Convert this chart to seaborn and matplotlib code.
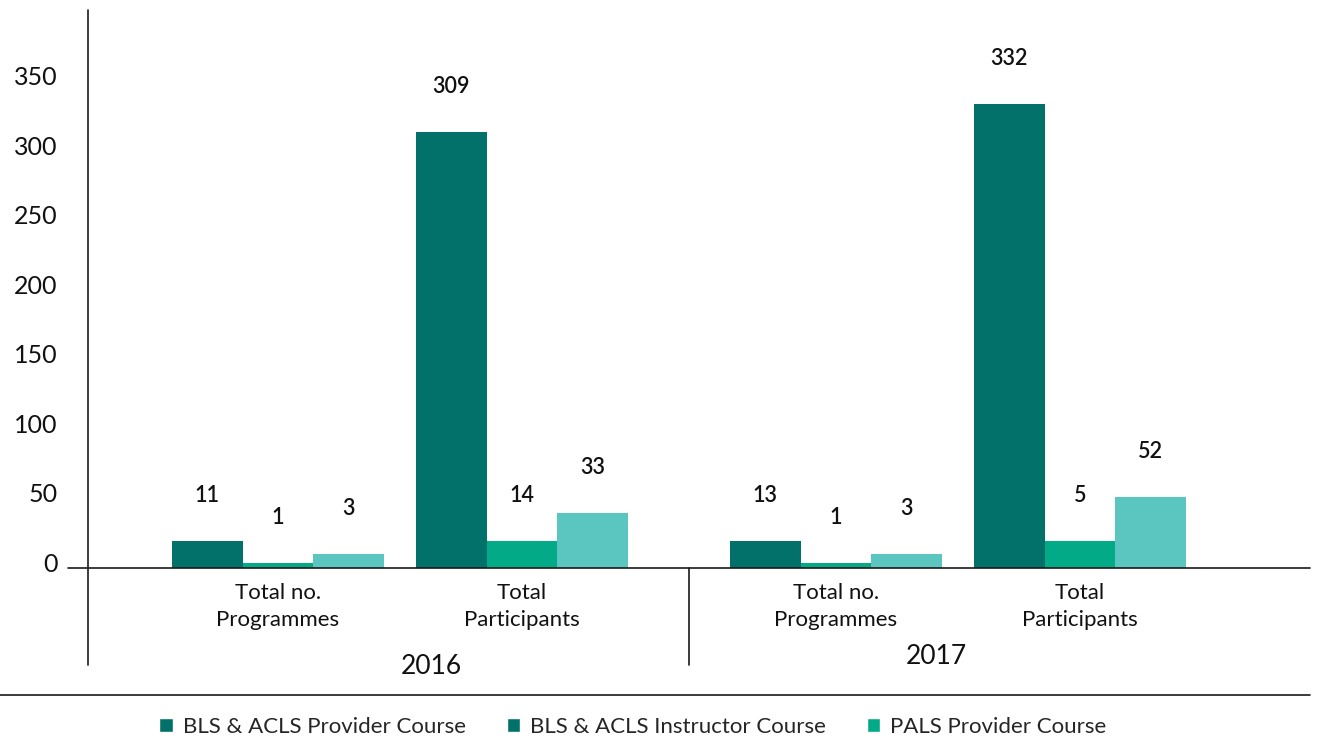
import matplotlib
matplotlib.use("Agg")
import matplotlib.pyplot as plt
import matplotlib.transforms as mtransforms
from matplotlib.lines import Line2D
from matplotlib.patches import Patch
import pandas as pd
import seaborn as sns

# ---- data ----
categories = ["Total no.\nProgrammes", "Total\nParticipants",
              "Total no.\nProgrammes", "Total\nParticipants"]
years = ["2016", "2017"]
series = ["BLS & ACLS Provider Course", "BLS & ACLS Instructor Course",
          "PALS Provider Course"]

# bar heights as they are drawn in the picture
provider_heights = [19.4, 314, 19.4, 334]
instructor_heights = [3.6, 19.4, 3.6, 19.4]
pals_heights = [10, 39.6, 10, 51]

# numbers printed above the bars
provider_labels = [11, 309, 13, 332]
instructor_labels = [1, 14, 1, 5]
pals_labels = [3, 33, 3, 52]

y_ticks = [0, 50, 100, 150, 200, 250, 300, 350]

# ---- layout / style ----
bar_colors = ["#02716a", "#02aa87", "#5bc5bf"]
legend_colors = ["#02716a", "#02716a", "#02aa87"]
slot_pos = [0, 1, 2.287, 3.287]   # wider gap between the two years
year_pos = [0.627, 2.70]

rows = []
for name, heights, labels in zip(series,
                                 [provider_heights, instructor_heights, pals_heights],
                                 [provider_labels, instructor_labels, pals_labels]):
    for p, h, lab in zip(slot_pos, heights, labels):
        rows.append({"pos": p, "height": h, "label": lab, "series": name})
df = pd.DataFrame(rows)

W, H = 1319, 742


def fx(px):
    return px / W


def fy(py):
    return 1 - py / H


sns.set_theme(style="white")
plt.rcParams["font.family"] = ["Lato", "DejaVu Sans"]

fig = plt.figure(figsize=(W / 100, H / 100), dpi=100)
ax = fig.add_axes([fx(88), fy(568), fx(1310) - fx(88), fy(10) - fy(568)])

sns.barplot(data=df, x="pos", y="height", hue="series", hue_order=series,
            palette=bar_colors, native_scale=True, width=0.869, saturation=1,
            linewidth=0, legend=False, ax=ax)

ax.set_xlim((88 - 278) / 244, (1310 - 278) / 244)
ax.set_ylim(0, 558 / 1.389)

# data labels above bars
for cont, labels in zip(ax.containers, [provider_labels, instructor_labels, pals_labels]):
    for patch, lab in zip(cont.patches, labels):
        ax.annotate(str(lab), (patch.get_x() + patch.get_width() / 2, patch.get_height()),
                    xytext=(0, 33), textcoords="offset points",
                    ha="center", va="center", fontsize=15.5, fontweight="semibold",
                    color="#111111")

for s in ax.spines.values():
    s.set_visible(False)

ax.set_xlabel("")
ax.set_ylabel("")
ax.set_xticks(slot_pos)
ax.set_xticklabels(categories, fontsize=16, linespacing=1.45)
ax.set_yticks(y_ticks)
ax.set_yticklabels([str(v) for v in y_ticks], fontsize=18)
ax.tick_params(axis="x", length=0, pad=10.5, colors="#111111")
ax.tick_params(axis="y", length=0, pad=22, colors="#111111")
shift = mtransforms.ScaledTranslation(0, 6 / 100, fig.dpi_scale_trans)
for lbl in ax.get_yticklabels():
    lbl.set_transform(lbl.get_transform() + shift)

# year labels under the categories
tr = mtransforms.blended_transform_factory(ax.transData, fig.transFigure)
ax.text(year_pos[0], fy(667), years[0], transform=tr, ha="center", va="center",
        fontsize=19, color="#111111")
ax.text(year_pos[1], fy(656), years[1], transform=tr, ha="center", va="center",
        fontsize=19, color="#111111")

# axis frame lines
line_kw = dict(color="#1a1a1a", linewidth=1.2, transform=fig.transFigure)
fig.add_artist(Line2D([fx(88), fx(88)], [fy(10), fy(665)], **line_kw))
fig.add_artist(Line2D([fx(68), fx(1310)], [fy(568), fy(568)], **line_kw))
fig.add_artist(Line2D([fx(689), fx(689)], [fy(568), fy(665)], **line_kw))
fig.add_artist(Line2D([fx(0), fx(1310)], [fy(695), fy(695)], **line_kw))

handles = [Patch(facecolor=c, label=s) for c, s in zip(legend_colors, series)]
fig.legend(handles=handles, loc="center", bbox_to_anchor=(fx(633), fy(727)),
           ncol=3, frameon=False, fontsize=16, handlelength=0.6, handleheight=0.6,
           handletextpad=0.45, columnspacing=1.85)

fig.savefig("out.png", dpi=100)
